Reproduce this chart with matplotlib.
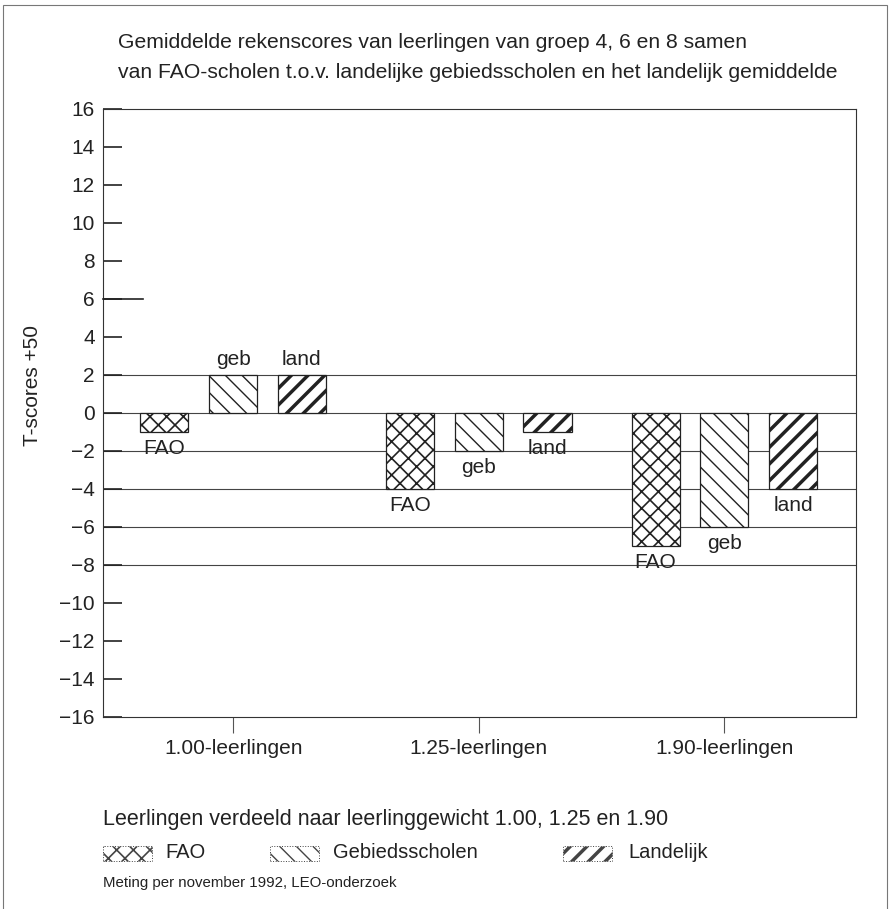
import numpy as np
import matplotlib
matplotlib.use('Agg')
import matplotlib.pyplot as plt
from matplotlib.patches import Rectangle

plt.rcParams['font.family'] = ['Liberation Sans', 'DejaVu Sans']

# data
groups = ['1.00-leerlingen', '1.25-leerlingen', '1.90-leerlingen']
fao = [-1, -4, -7]
geb = [2, -2, -6]
land = [2, -1, -4]
bar_tags = ['FAO', 'geb', 'land']
legend_names = ['FAO', 'Gebiedsscholen', 'Landelijk']
yticks = np.arange(-16, 17, 2)
gridvals = [2, 0, -2, -4, -6, -8]

title1 = 'Gemiddelde rekenscores van leerlingen van groep 4, 6 en 8 samen'
title2 = 'van FAO-scholen t.o.v. landelijke gebiedsscholen en het landelijk gemiddelde'
subnote = 'Leerlingen verdeeld naar leerlinggewicht 1.00, 1.25 en 1.90'
source = 'Meting per november 1992, LEO-onderzoek'

hatches = ['xx', '\\\\', '//']
hatch_lw = [1.2, 1.0, 2.5]
ink = '#222222'
fs = 15

W, H = 893, 909
fig = plt.figure(figsize=(W / 100, H / 100), dpi=100)
ax = fig.add_axes([103 / W, 1 - 717 / H, (856 - 103) / W, (717 - 109) / H])

x = np.arange(len(groups))
offs = [-0.28, 0.0, 0.28]
width = 0.196

for yv in gridvals:
    ax.axhline(yv, color='#444444', lw=0.8, zorder=1)

for i, series in enumerate([fao, geb, land]):
    bars = ax.bar(x + offs[i], series, width, color='white', edgecolor=ink,
                  hatch=hatches[i], linewidth=0.9, zorder=2)
    for b in bars:
        if hasattr(b, 'set_hatch_linewidth'):
            b.set_hatch_linewidth(hatch_lw[i])
        v = b.get_height()
        cx = b.get_x() + b.get_width() / 2
        if v >= 0:
            ax.annotate(bar_tags[i], (cx, v), xytext=(0, 4), textcoords='offset points',
                        ha='center', va='bottom', fontsize=fs, color=ink, zorder=3)
        else:
            ax.annotate(bar_tags[i], (cx, v), xytext=(0, -5), textcoords='offset points',
                        ha='center', va='top', fontsize=fs, color=ink, zorder=3)

ax.set_xlim(-0.53, 2.536)
ax.set_ylim(-16, 16)
ax.set_yticks(yticks)
ax.tick_params(axis='y', direction='in', length=14, width=1.2, color=ink,
               labelsize=fs, pad=6, labelcolor=ink)
ax.set_xticks(x)
ax.set_xticklabels(groups)
ax.tick_params(axis='x', direction='out', length=11.5, width=0.8, color='#555555',
               labelsize=fs, pad=4, labelcolor=ink)
# longer tick at 6
ax.plot([-0.53, -0.53 + 40 / 245.5], [6, 6], color=ink, lw=1.2, clip_on=False, zorder=3)

for s in ax.spines.values():
    s.set_color('#333333')
    s.set_linewidth(0.8)

fig.text(33 / W, 1 - 385 / H, 'T-scores +50', rotation=90, ha='center', va='center',
         fontsize=fs, color=ink)

fig.text(118 / W, 1 - 42 / H, title1, ha='left', va='center', fontsize=15.2, color=ink)
fig.text(118 / W, 1 - 72 / H, title2, ha='left', va='center', fontsize=15.2, color=ink)

fig.text(103 / W, 1 - 819 / H, subnote, ha='left', va='center', fontsize=15.5, color=ink)

patch_x = [103, 270, 563]
text_x = [165, 333, 628]
for i in range(3):
    r = Rectangle((patch_x[i] / W, 1 - 861 / H), 49 / W, 15 / H, transform=fig.transFigure,
                  facecolor='white', edgecolor='#444444', hatch=hatches[i], linewidth=0.7,
                  linestyle=':')
    if hasattr(r, 'set_hatch_linewidth'):
        r.set_hatch_linewidth(hatch_lw[i])
    fig.add_artist(r)
    fig.text(text_x[i] / W, 1 - 853 / H, legend_names[i], ha='left', va='center',
             fontsize=14.5, color=ink)

fig.text(103 / W, 1 - 883 / H, source, ha='left', va='center', fontsize=10.8, color=ink)

fig.add_artist(Rectangle((3 / W, -0.01), (887 - 3) / W, 1 - 5 / H + 0.01,
                         transform=fig.transFigure, fill=False, edgecolor='#777777',
                         linewidth=0.8))

fig.savefig('out.png', dpi=100)
